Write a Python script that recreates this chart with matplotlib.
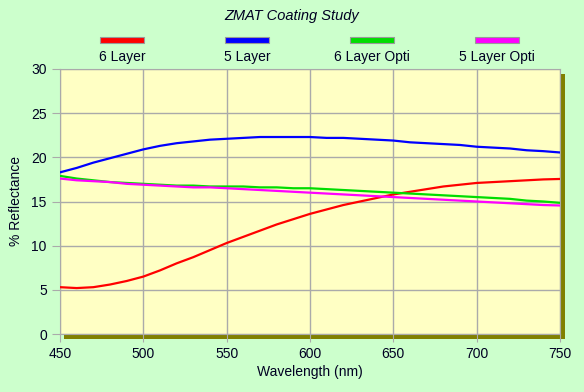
import matplotlib
matplotlib.use("Agg")
import matplotlib.pyplot as plt
from matplotlib.patches import Rectangle

plt.rcParams['font.family'] = ['Liberation Sans', 'DejaVu Sans']

wavelength = [450, 460, 470, 480, 490, 500, 510, 520, 530, 540, 550, 560, 570, 580, 590, 600,
              610, 620, 630, 640, 650, 660, 670, 680, 690, 700, 710, 720, 730, 740, 750]
six_layer = [5.3, 5.2, 5.3, 5.6, 6.0, 6.5, 7.2, 8.0, 8.7, 9.5, 10.3, 11.0, 11.7, 12.4, 13.0, 13.6,
             14.1, 14.6, 15.0, 15.4, 15.8, 16.1, 16.4, 16.7, 16.9, 17.1, 17.2, 17.3, 17.4, 17.5, 17.55]
five_layer = [18.3, 18.8, 19.4, 19.9, 20.4, 20.9, 21.3, 21.6, 21.8, 22.0, 22.1, 22.2, 22.3, 22.3, 22.3, 22.3,
              22.2, 22.2, 22.1, 22.0, 21.9, 21.7, 21.6, 21.5, 21.4, 21.2, 21.1, 21.0, 20.8, 20.7, 20.55]
six_opti = [17.9, 17.6, 17.4, 17.2, 17.1, 17.0, 16.9, 16.8, 16.8, 16.7, 16.7, 16.7, 16.6, 16.6, 16.5, 16.5,
            16.4, 16.3, 16.2, 16.1, 16.0, 15.9, 15.8, 15.7, 15.6, 15.5, 15.4, 15.3, 15.1, 15.0, 14.85]
five_opti = [17.6, 17.4, 17.3, 17.2, 17.0, 16.9, 16.8, 16.7, 16.6, 16.6, 16.5, 16.4, 16.3, 16.2, 16.1, 16.0,
             15.9, 15.8, 15.7, 15.6, 15.5, 15.4, 15.3, 15.2, 15.1, 15.0, 14.9, 14.8, 14.7, 14.6, 14.55]

names = ['6 Layer', '5 Layer', '6 Layer Opti', '5 Layer Opti']
colors = ['#FF0000', '#0000FF', '#00DD00', '#FF00FF']
series = [six_layer, five_layer, six_opti, five_opti]

W, H = 584, 392
fig = plt.figure(figsize=(W / 100, H / 100), dpi=100, facecolor='#CCFFCC')
left, right, top, bottom = 60, 560, 69, 334
ax = fig.add_axes([left / W, 1 - bottom / H, (right - left) / W, (bottom - top) / H])
ax.set_facecolor('#FFFFC4')

# olive drop shadow
fig.patches.append(Rectangle(((left + 4) / W, 1 - (bottom + 5) / H), (right - left + 1) / W, (bottom - top) / H,
                             transform=fig.transFigure, facecolor='#808000', edgecolor='none', zorder=-1))

for vals, c in zip(series, colors):
    ax.plot(wavelength, vals, color=c, lw=1.6, zorder=3)

ax.set_xlim(450, 750)
ax.set_ylim(0, 30)
ax.set_xticks(range(450, 751, 50))
ax.set_yticks(range(0, 31, 5))
ax.grid(True, color='#AAAAAA', lw=1)
for s in ax.spines.values():
    s.set_color('#AAAAAA')
ax.tick_params(colors='#AAAAAA', labelcolor='#000022', length=6, labelsize=10)
ax.set_xlabel('Wavelength (nm)', fontsize=10, color='#000022', labelpad=3)
ax.set_ylabel('% Reflectance', fontsize=10, color='#000022', labelpad=6)

fig.text(292 / W, 1 - 16 / H, 'ZMAT Coating Study', ha='center', va='center',
         fontsize=10.5, style='italic', color='#000022')

centers = [122, 247, 372, 497]
for cx, name, c in zip(centers, names, colors):
    fig.patches.append(Rectangle(((cx - 22) / W, 1 - 42.5 / H), 44 / W, 6 / H, transform=fig.transFigure,
                                 facecolor=c, edgecolor='#999999', lw=0.8))
    fig.text(cx / W, 1 - 56.5 / H, name, ha='center', va='center', fontsize=10, color='#000022')

fig.savefig('out.png', dpi=100, facecolor=fig.get_facecolor())
